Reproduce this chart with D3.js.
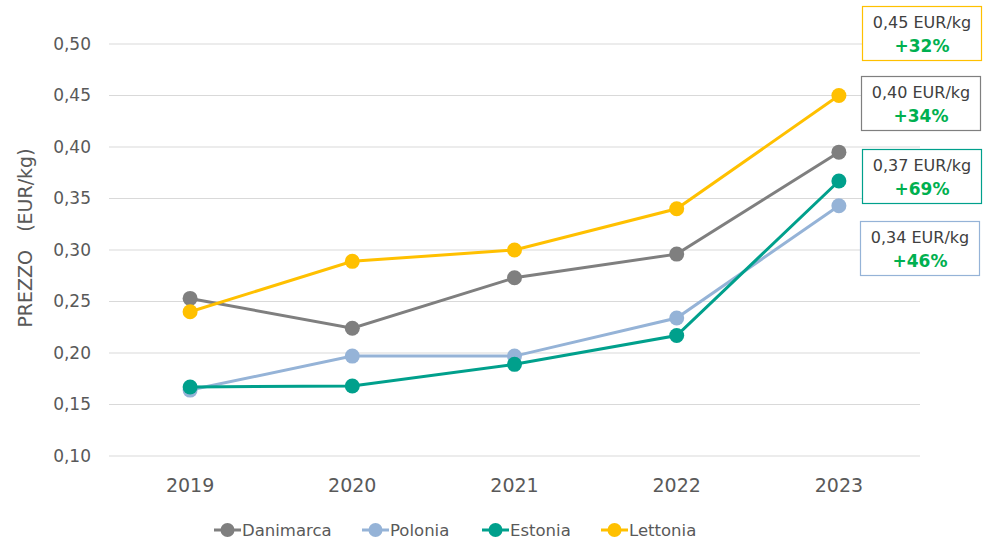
<!DOCTYPE html>
<html>
<head>
<meta charset="utf-8">
<script src="https://cdn.jsdelivr.net/npm/d3@7"></script>
<style>
  body { margin: 0; background: #fff; }
  svg text { font-family: "DejaVu Sans", "Open Sans", sans-serif; }
</style>
</head>
<body>
<svg id="chart" width="983" height="542"></svg>
<script>
// data
var years = ["2019", "2020", "2021", "2022", "2023"];
var seriesNames = ["Danimarca", "Polonia", "Estonia", "Lettonia"];
var danimarca = [0.253, 0.224, 0.273, 0.296, 0.395];
var polonia   = [0.164, 0.197, 0.197, 0.234, 0.343];
var estonia   = [0.167, 0.168, 0.189, 0.217, 0.367];
var lettonia  = [0.240, 0.289, 0.300, 0.340, 0.450];
var yTicks = [0.10, 0.15, 0.20, 0.25, 0.30, 0.35, 0.40, 0.45, 0.50];
// end-of-line labels (top to bottom)
var labelSeries = ["Lettonia", "Danimarca", "Estonia", "Polonia"];
var labelPrice  = ["0,45 EUR/kg", "0,40 EUR/kg", "0,37 EUR/kg", "0,34 EUR/kg"];
var labelChange = ["+32%", "+34%", "+69%", "+46%"];

var colors = {
    "Danimarca": "#7f7f7f",
    "Polonia":   "#95b3d7",
    "Estonia":   "#00a08c",
    "Lettonia":  "#ffc000"
};
var values = { "Danimarca": danimarca, "Polonia": polonia, "Estonia": estonia, "Lettonia": lettonia };

var svg = d3.select('#chart');
var margin = {top: 44, left: 109, right: 63, bottom: 86};

var x = d3.scaleBand()
    .domain(years)
    .range([margin.left, 983 - margin.right]);

var y = d3.scaleLinear()
    .domain([0.10, 0.50])
    .range([456, margin.top]);

var fmt = function(d) { return d3.format(".2f")(d).replace('.', ','); };

// gridlines
svg.append('g')
    .selectAll('line')
    .data(yTicks)
    .join('line')
    .attr('x1', margin.left)
    .attr('x2', 983 - margin.right)
    .attr('y1', d => y(d))
    .attr('y2', d => y(d))
    .attr('stroke', '#d9d9d9')
    .attr('stroke-width', 1);

// y tick labels
svg.append('g')
    .selectAll('text')
    .data(yTicks)
    .join('text')
    .attr('x', 91)
    .attr('y', d => y(d))
    .attr('dy', '0.35em')
    .attr('text-anchor', 'end')
    .attr('font-size', 17)
    .attr('fill', '#595959')
    .text(fmt);

// x tick labels
svg.append('g')
    .selectAll('text')
    .data(years)
    .join('text')
    .attr('x', d => x(d) + x.bandwidth() / 2)
    .attr('y', 492)
    .attr('text-anchor', 'middle')
    .attr('font-size', 19)
    .attr('fill', '#595959')
    .text(d => d);

// y axis title
svg.append('text')
    .attr('transform', 'translate(32, 238) rotate(-90)')
    .attr('text-anchor', 'middle')
    .attr('font-size', 19)
    .attr('fill', '#595959')
    .attr('xml:space', 'preserve')
    .text('PREZZO   (EUR/kg)');

// lines + markers
var line = d3.line()
    .x((d, i) => x(years[i]) + x.bandwidth() / 2)
    .y(d => y(d));

seriesNames.forEach(function(name) {
    var g = svg.append('g');
    g.append('path')
        .datum(values[name])
        .attr('d', line)
        .attr('fill', 'none')
        .attr('stroke', colors[name])
        .attr('stroke-width', 3);
    g.selectAll('circle')
        .data(values[name])
        .join('circle')
        .attr('cx', (d, i) => x(years[i]) + x.bandwidth() / 2)
        .attr('cy', d => y(d))
        .attr('r', 7.5)
        .attr('fill', colors[name]);
});

// annotation boxes
var boxTops = [6, 76, 149, 221];
var boxLefts = [862, 861, 862, 860];
for (var i = 0; i < labelSeries.length; i++) {
    var bg = svg.append('g');
    bg.append('rect')
        .attr('x', boxLefts[i] + 0.5)
        .attr('y', boxTops[i] + 0.5)
        .attr('width', 119)
        .attr('height', 54)
        .attr('fill', '#fff')
        .attr('stroke', colors[labelSeries[i]])
        .attr('stroke-width', 1.2);
    bg.append('text')
        .attr('x', boxLefts[i] + 60)
        .attr('y', boxTops[i] + 22)
        .attr('text-anchor', 'middle')
        .attr('font-size', 16)
        .attr('fill', '#404040')
        .text(labelPrice[i]);
    bg.append('text')
        .attr('x', boxLefts[i] + 60)
        .attr('y', boxTops[i] + 46)
        .attr('text-anchor', 'middle')
        .attr('font-size', 17)
        .attr('font-weight', 'bold')
        .attr('fill', '#00b050')
        .text(labelChange[i]);
}

// legend
var legendX = [214, 362, 482, 601];
var legend = svg.append('g');
seriesNames.forEach(function(name, i) {
    var lg = legend.append('g').attr('transform', `translate(${legendX[i]}, 530)`);
    lg.append('line')
        .attr('x1', 0).attr('x2', 27)
        .attr('stroke', colors[name])
        .attr('stroke-width', 3);
    lg.append('circle')
        .attr('cx', 13.5)
        .attr('r', 7)
        .attr('fill', colors[name]);
    lg.append('text')
        .attr('x', 28)
        .attr('dy', '0.35em')
        .attr('font-size', 16.5)
        .attr('fill', '#595959')
        .text(name);
});
</script>
</body>
</html>
